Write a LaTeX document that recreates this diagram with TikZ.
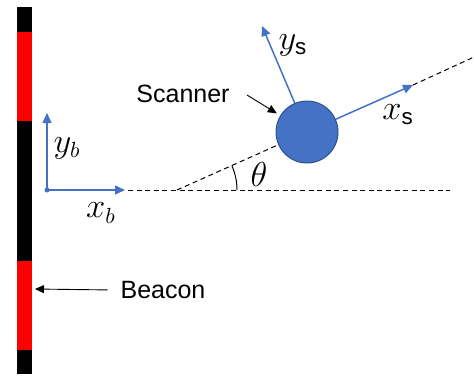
\documentclass[tikz,border=0pt]{standalone}
\usepackage{fontspec}
\setmainfont{Liberation Sans}
\usetikzlibrary{arrows.meta}
\definecolor{axisblue}{HTML}{4472C4}
\definecolor{rimblue}{HTML}{2F528F}

\begin{document}
\begin{tikzpicture}[x=0.5pt,y=0.5pt,
  axis/.style={axisblue,line width=0.75pt,-{Triangle[length=5pt,width=4.5pt]}},
  ray/.style={black,dashed,line width=0.5pt,dash pattern=on 2.5pt off 1.8pt},
  pointer/.style={black,line width=0.45pt,-{Triangle[length=4.5pt,width=4pt]}},
  txt/.style={font=\fontsize{12.5}{15}\selectfont},
  sym/.style={font=\fontsize{16}{19}\selectfont}]
  \useasboundingbox (0,0) rectangle (474,377);
  % beacon bar
  \foreach \ya/\yb/\c in {3/27/black, 27/116/red, 116/256/black, 256/345/red, 345/370/black}{
    \fill[\c] (17,\ya) rectangle (32,\yb);
  }
  % beacon frame
  \coordinate (o) at (47,187);
  \coordinate (xb) at (125,187);
  \coordinate (yb) at (47,264);
  \fill[axisblue] (o) circle (2.5);
  \draw[axis] (o) -- (xb);
  \draw[axis] (o) -- (yb);
  \node[sym] (xblbl) at (101,164) {$x_b$};
  \node[sym] (yblbl) at (67,229) {$y_b$};
  % reference line and heading
  \coordinate (hstart) at (128,187);
  \coordinate (hend) at (450,187);
  \coordinate (p) at (177,187);
  \coordinate (xs) at (413,292);
  \coordinate (rend) at (474,320);
  \coordinate (ys) at (262,351);
  \draw[ray] (hstart) -- (hend);
  \node[circle,fill=axisblue,draw=rimblue,line width=0.5pt,minimum size=31pt,inner sep=0pt] (scanner) at (307,245) {};
  \draw[ray] (p) -- (scanner.204);
  \draw[ray] (xs) -- (rend);
  \draw[axis] (scanner.24) -- (xs);
  \draw[axis] (scanner.113) -- (ys);
  \draw[line width=0.5pt] (p) ++(60,0) arc[start angle=0,end angle=24,radius=60];
  \node[sym] (theta) at (259,203) {$\theta$};
  \node[sym] (xslbl) at (398,262) {$x_{\mathrm{s}}$};
  \node[sym] (yslbl) at (293,332) {$y_{\mathrm{s}}$};
  % labels
  \node[txt] (scanlbl) at (183,283) {Scanner};
  \coordinate (sctail) at (247,282);
  \draw[pointer,shorten >=2pt] (sctail) -- (scanner);
  \node[txt] (beaconlbl) at (163,87) {Beacon};
  \coordinate (barpt) at (35,88);
  \draw[pointer,shorten <=3pt] (beaconlbl.west) -- (barpt);
\end{tikzpicture}
\end{document}
